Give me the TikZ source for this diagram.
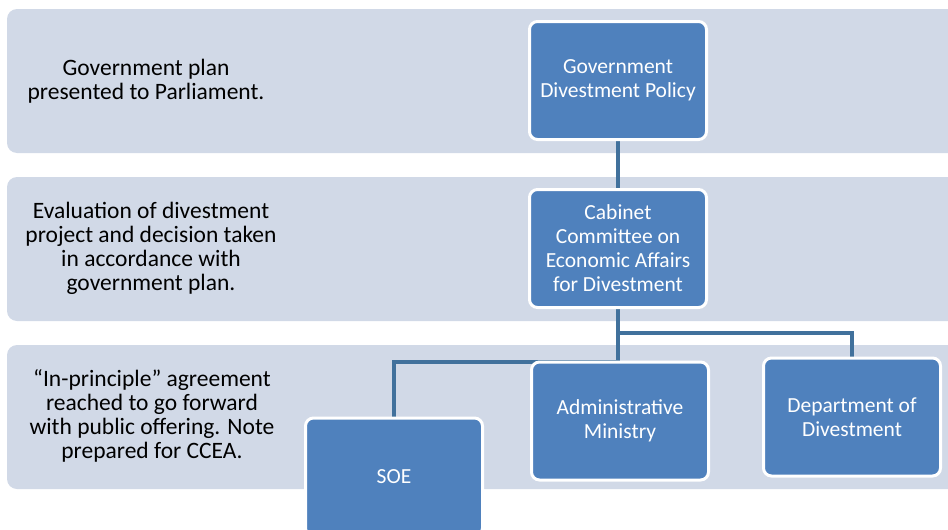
\documentclass[tikz,border=0pt]{standalone}
\usepackage{fontspec}
\setmainfont{Carlito}
\usetikzlibrary{positioning}
\definecolor{bandgray}{HTML}{D1D9E7}
\definecolor{boxblue}{HTML}{4F81BD}
\definecolor{linkblue}{HTML}{41719C}
\pgfdeclarelayer{bands}
\pgfdeclarelayer{links}
\pgfsetlayers{bands,links,main}

\begin{document}
\begin{tikzpicture}[x=1pt, y=-1pt,
	band/.style = {fill = bandgray, rounded corners = 10pt},
	unit/.style = {draw = white, line width = 3pt, fill = boxblue, rounded corners = 8pt,
		minimum width = 177pt, minimum height = 118pt, text = white, align = center,
		font = \fontsize{21.5}{24}\selectfont},
	note/.style = {align = center, font = \fontsize{23.5}{24}\selectfont},
	link/.style = {draw = linkblue, line width = 3.5pt}]
			\useasboundingbox (0,0) rectangle (948,530);
			\clip (0,0) rectangle (948,530);

			\begin{pgfonlayer}{bands}
				\fill [band] (7,9) rectangle (970,153);
				\fill [band] (7,177) rectangle (970,321);
				\fill [band] (7,345) rectangle (970,489);
			\end{pgfonlayer}

			\node [note] (plan) at (146,81) {Government plan\\presented to Parliament.};
			\node [note] (evaluation) at (151,248) {Evaluation of divestment\\project and decision taken\\in accordance with\\government plan.};
			\node [note] (agreement) at (152,416) {“In-principle” agreement\\reached to go forward\\with public offering. Note\\prepared for CCEA.};

			\node [unit] (policy) at (618,80.5) {Government\\Divestment Policy};
			\node [unit] (cabinet) at (618,248.5) {Cabinet\\Committee on\\Economic Affairs\\for Divestment};
			\node [unit] (ministry) at (620,421) {Administrative\\Ministry};
			\node [unit] (department) at (852,417) {Department of\\Divestment};
			\node [unit] (soe) at (394,477) {SOE};

			\begin{pgfonlayer}{links}
				\draw [link] (policy) -- (cabinet);
				\draw [link] (cabinet.south) -- (cabinet.south |- ministry.north);
				\draw [link] (cabinet.south) -- ++(0,24) -| (department.north);
				\draw [link] (cabinet.south) -- ++(0,53) -| (soe.north);
			\end{pgfonlayer}
		\end{tikzpicture}
\end{document}
